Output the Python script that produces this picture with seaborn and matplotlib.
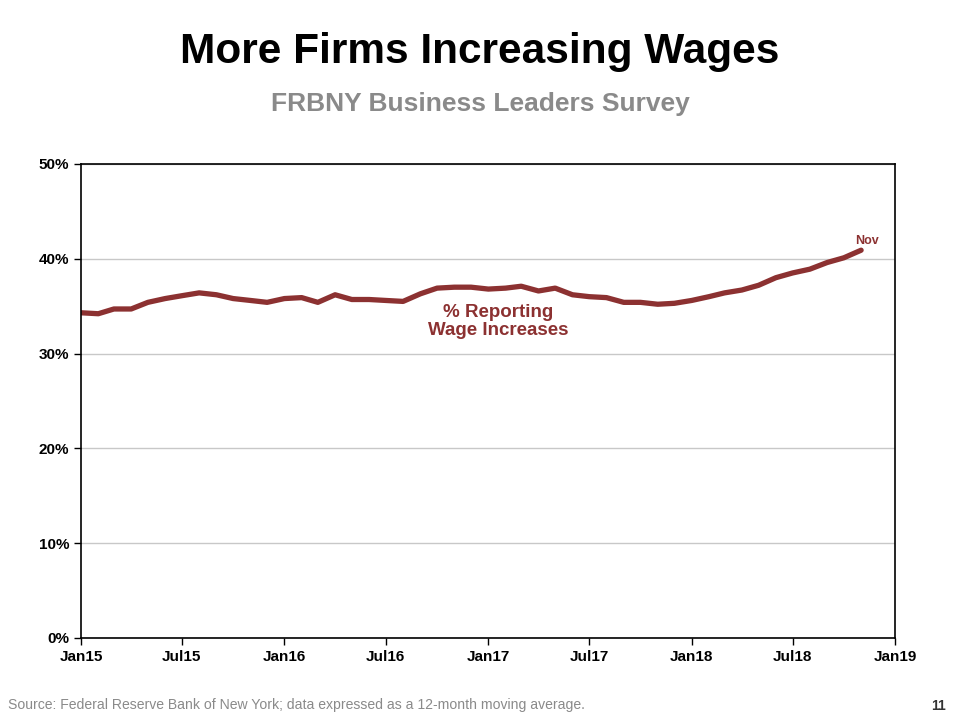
import pandas as pd
import seaborn as sns
import matplotlib.pyplot as plt
import matplotlib.dates as mdates
from matplotlib.ticker import FuncFormatter

# monthly data, Jan 2015 - Nov 2018 (12-month moving average)
months = pd.date_range("2015-01-01", "2018-11-01", freq="MS")
pct_wage_increases = [
    34.3, 34.2, 34.7, 34.7, 35.4, 35.8, 36.1, 36.4, 36.2, 35.8, 35.6, 35.4,
    35.8, 35.9, 35.4, 36.2, 35.7, 35.7, 35.6, 35.5, 36.3, 36.9, 37.0, 37.0,
    36.8, 36.9, 37.1, 36.6, 36.9, 36.2, 36.0, 35.9, 35.4, 35.4, 35.2, 35.3,
    35.6, 36.0, 36.4, 36.7, 37.2, 38.0, 38.5, 38.9, 39.6, 40.1, 40.9,
]
tick_dates = pd.date_range("2015-01-01", "2019-01-01", freq="6MS")
y_ticks = [0, 10, 20, 30, 40, 50]

df = pd.DataFrame({"month": months, "pct": pct_wage_increases})

sns.set_style("white")
plt.rcParams["font.family"] = ["Liberation Sans", "DejaVu Sans"]

line_color = "#8c3131"

fig = plt.figure(figsize=(9.6, 7.19), dpi=100)
ax = fig.add_axes([0.0844, 0.1127, 0.8480, 0.6593])

sns.lineplot(data=df, x="month", y="pct", color=line_color, linewidth=3.8, ax=ax)

ax.set_xlim(tick_dates[0], tick_dates[-1])
ax.set_ylim(0, 50)
ax.set_xticks(tick_dates)
ax.xaxis.set_major_formatter(mdates.DateFormatter("%b%y"))
ax.set_yticks(y_ticks)
ax.yaxis.set_major_formatter(FuncFormatter(lambda v, p: f"{int(v)}%"))
ax.set_xlabel("")
ax.set_ylabel("")
ax.grid(axis="y", color="#c8c8c8", linewidth=1)
ax.set_axisbelow(True)
for s in ax.spines.values():
    s.set_color("black")
    s.set_linewidth(1.2)
ax.tick_params(axis="both", direction="out", length=5, width=1, color="black",
               labelsize=11, labelcolor="black", bottom=True, left=True)
for lbl in ax.get_xticklabels() + ax.get_yticklabels():
    lbl.set_fontweight("bold")

# annotations
ax.text(pd.Timestamp("2017-01-18"), 33.4, "% Reporting\nWage Increases",
        ha="center", va="center", color=line_color, fontsize=13.5,
        fontweight="bold", linespacing=1.05)
ax.text(pd.Timestamp("2018-11-12"), 41.9, "Nov", ha="center", va="center",
        color=line_color, fontsize=9, fontweight="bold")

# titles
fig.text(0.5, 0.928, "More Firms Increasing Wages", ha="center", va="center",
         fontsize=30.5, fontweight="bold", color="black")
fig.text(0.5, 0.856, "FRBNY Business Leaders Survey", ha="center", va="center",
         fontsize=19, fontweight="bold", color="#8a8a8a")

fig.text(0.008, 0.02, "Source: Federal Reserve Bank of New York; data expressed as a 12-month moving average.",
         ha="left", va="center", fontsize=10.1, color="#8a8a8a")
fig.text(0.985, 0.018, "11", ha="right", va="center", fontsize=10,
         fontweight="bold", color="#333333")

fig.savefig("out.png", dpi=100)
